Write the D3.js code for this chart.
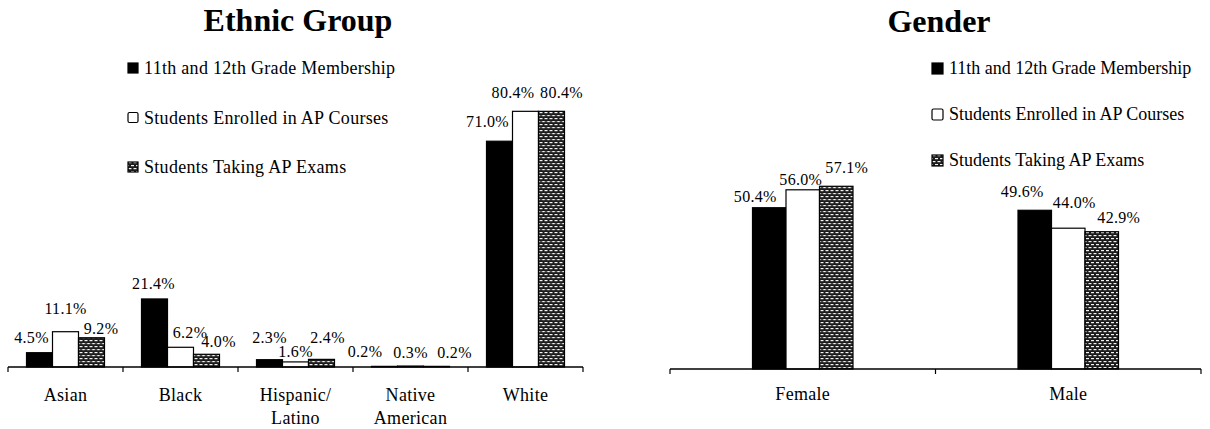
<!DOCTYPE html>
<html>
<head>
<meta charset="utf-8">
<script src="https://cdn.jsdelivr.net/npm/d3@7"></script>
<style>
  html, body { margin: 0; padding: 0; background: #fff; }
  svg { display: block; font-family: "Liberation Serif", "Times New Roman", serif; }
</style>
</head>
<body>
<svg id="chart" width="1210" height="429"></svg>
<script>
// Series shared by both panels
const seriesNames = [
  "11th and 12th Grade Membership",
  "Students Enrolled in AP Courses",
  "Students Taking AP Exams"
];

// Ethnic group panel
const ethnicCategories = ["Asian", "Black", "Hispanic/\nLatino", "Native\nAmerican", "White"];
const ethnicMembership = [4.5, 21.4, 2.3, 0.2, 71.0];
const ethnicEnrolled   = [11.1, 6.2, 1.6, 0.3, 80.4];
const ethnicExams      = [9.2, 4.0, 2.4, 0.2, 80.4];

// Gender panel
const genderCategories = ["Female", "Male"];
const genderMembership = [50.4, 49.6];
const genderEnrolled   = [56.0, 44.0];
const genderExams      = [57.1, 42.9];

// Hand-placed value label offsets [dx from bar centre, gap above bar top]
const ethnicLabelNudge = [
  [[-8, 10], [0, 18], [9.5, 4]],
  [[-1, 10], [9.5, 9], [12, 7]],
  [[0, 17], [0, 5], [6, 16.5]],
  [[-19.5, 9], [0, 8.5], [18, 8.5]],
  [[-12, 14], [-12.5, 13], [10, 13]]
];
const genderLabelNudge = [
  [[-14, 6], [-2, 5], [10.5, 13]],
  [[-12.5, 13], [6, 20], [17, 9]]
];

const svg = d3.select("#chart");
const fmt = v => d3.format(".1f")(v) + "%";

// Brick-like hatch used for the exam series
const defs = svg.append("defs");
const pat = defs.append("pattern")
  .attr("id", "brick")
  .attr("patternUnits", "userSpaceOnUse")
  .attr("width", 5).attr("height", 6);
pat.append("rect").attr("width", 5).attr("height", 6).attr("fill", "#1c1c1c");
pat.append("rect").attr("x", 0.5).attr("y", 1).attr("width", 3).attr("height", 1.2).attr("fill", "#f4f4f4");
pat.append("rect").attr("x", 3).attr("y", 4).attr("width", 3).attr("height", 1.2).attr("fill", "#f4f4f4");
pat.append("rect").attr("x", -2).attr("y", 4).attr("width", 3).attr("height", 1.2).attr("fill", "#f4f4f4");

const seriesFill = ["#000", "#fff", "url(#brick)"];

function drawPanel(opt) {
  const g = svg.append("g");
  const cats = opt.categories;
  const x0 = d3.scaleBand().domain(d3.range(cats.length)).range([opt.left, opt.right]).paddingInner(0).paddingOuter(0);
  const groupW = opt.barW * seriesNames.length;
  const x1 = d3.scaleBand().domain(d3.range(seriesNames.length)).range([0, groupW]);
  const y = d3.scaleLinear().domain(opt.yDomain).range([opt.baseY, opt.topY]);

  const rows = cats.map((c, i) => opt.series.map((s, j) => ({ i, j, v: s[i] })));

  // bars
  const groups = g.selectAll("g.cat").data(rows).join("g")
    .attr("class", "cat")
    .attr("transform", (d, i) => `translate(${x0(i) + (x0.bandwidth() - groupW) / 2},0)`);

  groups.selectAll("rect").data(d => d).join("rect")
    .attr("x", d => x1(d.j))
    .attr("y", d => y(d.v))
    .attr("width", x1.bandwidth())
    .attr("height", d => y(0) - y(d.v))
    .attr("fill", d => seriesFill[d.j])
    .attr("stroke", "#000")
    .attr("stroke-width", 1.2);

  // value labels
  groups.selectAll("text").data(d => d).join("text")
    .attr("x", d => x1(d.j) + x1.bandwidth() / 2 + opt.nudge[d.i][d.j][0])
    .attr("y", d => y(d.v) - opt.nudge[d.i][d.j][1])
    .attr("text-anchor", "middle")
    .attr("font-size", 16)
    .attr("letter-spacing", 0.3)
    .attr("fill", "#000")
    .text(d => fmt(d.v));

  // axis line with ticks at category boundaries
  g.append("line")
    .attr("x1", opt.left).attr("x2", opt.right)
    .attr("y1", y(0)).attr("y2", y(0))
    .attr("stroke", "#000").attr("stroke-width", 1.5);
  const bounds = d3.range(cats.length).map(i => x0(i)).concat([opt.right]);
  g.selectAll("line.tick").data(bounds).join("line")
    .attr("class", "tick")
    .attr("x1", d => d).attr("x2", d => d)
    .attr("y1", y(0)).attr("y2", y(0) + 5)
    .attr("stroke", "#000").attr("stroke-width", 1.2);

  // category labels
  const cl = g.selectAll("text.cat").data(cats).join("text")
    .attr("class", "cat")
    .attr("x", (d, i) => x0(i) + x0.bandwidth() / 2)
    .attr("y", opt.catY)
    .attr("text-anchor", "middle")
    .attr("font-size", 18)
    .attr("letter-spacing", 0.3)
    .attr("fill", "#000");
  cl.selectAll("tspan").data(d => d.split("\n")).join("tspan")
    .attr("x", function () { return d3.select(this.parentNode).attr("x"); })
    .attr("dy", (d, k) => k === 0 ? 0 : 23)
    .text(d => d);

  // title
  g.append("text")
    .attr("x", opt.titleX).attr("y", opt.titleY)
    .attr("text-anchor", "middle")
    .attr("font-size", 32).attr("font-weight", "bold")
    .attr("fill", "#000")
    .text(opt.title);

  // legend
  const lg = g.selectAll("g.leg").data(seriesNames).join("g")
    .attr("class", "leg")
    .attr("transform", (d, i) => `translate(${opt.legX},${opt.legY + i * opt.legStep})`);
  lg.append("rect")
    .attr("x", 0).attr("y", -11)
    .attr("width", opt.legBox).attr("height", opt.legBox)
    .attr("rx", (d, i) => i === 1 ? 1.5 : 0)
    .attr("fill", (d, i) => seriesFill[i])
    .attr("stroke", "#000").attr("stroke-width", 1.2);
  lg.append("text")
    .attr("x", opt.legBox + 6).attr("y", 0)
    .attr("font-size", 18)
    .attr("letter-spacing", opt.legSpacing)
    .attr("fill", "#000")
    .text(d => d);
}

drawPanel({
  title: "Ethnic Group", titleX: 298, titleY: 31,
  categories: ethnicCategories,
  series: [ethnicMembership, ethnicEnrolled, ethnicExams],
  nudge: ethnicLabelNudge,
  left: 8, right: 583, barW: 26,
  baseY: 367, topY: 367 - 90 * 3.18, yDomain: [0, 90],
  catY: 401,
  legX: 128, legY: 74, legStep: 49.5, legBox: 10, legSpacing: 0.3
});

drawPanel({
  title: "Gender", titleX: 939, titleY: 32,
  categories: genderCategories,
  series: [genderMembership, genderEnrolled, genderExams],
  nudge: genderLabelNudge,
  left: 670, right: 1201, barW: 33.5,
  baseY: 369, topY: 369 - 60 * 3.2, yDomain: [0, 60],
  catY: 400,
  legX: 932, legY: 74, legStep: 46, legBox: 11, legSpacing: 0
});
</script>
</body>
</html>
